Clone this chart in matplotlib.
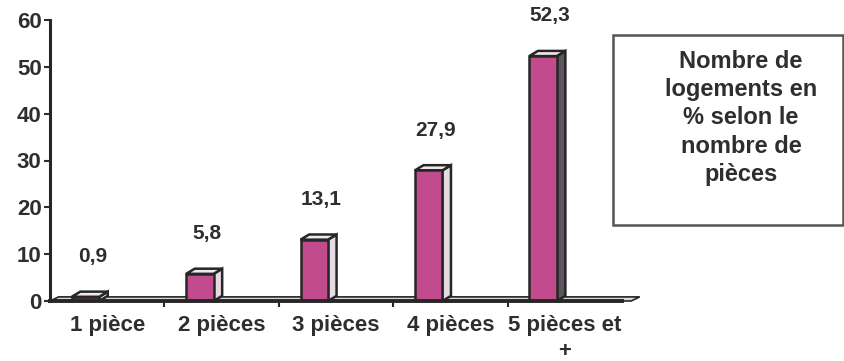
import matplotlib.pyplot as plt
from matplotlib.patches import Polygon, Rectangle


# Données
categories = ['1 pièce', '2 pièces', '3 pièces', '4 pièces', '5 pièces et\n+']
pourcentages = [0.9, 5.8, 13.1, 27.9, 52.3]
etiquettes = ['0,9', '5,8', '13,1', '27,9', '52,3']
graduations_y = [0, 10, 20, 30, 40, 50, 60]
titre = 'Nombre de\nlogements en\n% selon le\nnombre de\npièces'

COULEUR_TEXTE = '#2e2e2e'
COULEUR_FACE = '#c24b8e'
COULEUR_DESSUS = '#f3e8ef'
COULEUR_COTE = '#e4dce2'
COULEUR_COTE_SOMBRE = '#5f5560'
COULEUR_BORD = '#262626'

# Profondeur de l'effet 3D (unités de données)
DX = 0.075
DY = 1.1


def dessiner_sol(ax, n):
    """Dessine le plancher 3D sous les barres."""
    sol = Polygon([(-0.5, 0), (n - 0.5 + 0.08, 0),
                   (n - 0.5 + 0.08 + DX, DY * 0.8), (-0.5 + DX, DY * 0.8)],
                  closed=True, facecolor='#d8d8d8', edgecolor=COULEUR_BORD,
                  linewidth=1.2, clip_on=False, zorder=2)
    ax.add_patch(sol)


def dessiner_barres(ax):
    """Dessine les barres avec leurs faces latérales et supérieures."""
    positions = [i - 0.31 for i in range(len(categories))]
    largeur = 0.24
    barres = ax.bar(positions, pourcentages, width=largeur, align='edge',
                    color=COULEUR_FACE, edgecolor=COULEUR_BORD,
                    linewidth=1.8, zorder=4)

    for i, (barre, valeur) in enumerate(zip(barres, pourcentages)):
        x0 = barre.get_x()
        x1 = x0 + barre.get_width()
        cote = COULEUR_COTE_SOMBRE if i == len(pourcentages) - 1 else COULEUR_COTE
        ax.add_patch(Polygon([(x1, 0), (x1 + DX, DY), (x1 + DX, valeur + DY),
                              (x1, valeur)], closed=True, facecolor=cote,
                             edgecolor=COULEUR_BORD, linewidth=1.8, zorder=3))
        ax.add_patch(Polygon([(x0, valeur), (x1, valeur),
                              (x1 + DX, valeur + DY), (x0 + DX, valeur + DY)],
                             closed=True, facecolor=COULEUR_DESSUS,
                             edgecolor=COULEUR_BORD, linewidth=1.8, zorder=3))

    for i, (valeur, texte) in enumerate(zip(pourcentages, etiquettes)):
        ax.text(i - 0.13, valeur + 8.6, texte, ha='center', va='center',
                fontsize=15, fontweight='bold', color=COULEUR_TEXTE)


def configurer_axes(ax):
    """Configure les axes, graduations et étiquettes."""
    n = len(categories)
    ax.set_xlim(-0.5, n - 0.5)
    ax.set_ylim(0, 60)

    ax.set_yticks(graduations_y)
    ax.set_yticklabels([str(v) for v in graduations_y])
    ax.set_xticks(range(n))
    ax.set_xticklabels(categories, linespacing=1.35)
    ax.set_xticks([i - 0.5 for i in range(1, n)], minor=True)

    ax.tick_params(axis='y', direction='out', length=4, width=1.5, pad=2,
                   labelsize=16, colors=COULEUR_TEXTE)
    ax.tick_params(axis='x', which='major', length=0, pad=10,
                   labelsize=16, colors=COULEUR_TEXTE)
    ax.tick_params(axis='x', which='minor', direction='out', length=4,
                   width=1.5, color=COULEUR_BORD)
    for etiquette in ax.get_xticklabels() + ax.get_yticklabels():
        etiquette.set_fontweight('bold')

    for cote in ['top', 'right']:
        ax.spines[cote].set_visible(False)
    ax.spines['left'].set_linewidth(2.2)
    ax.spines['left'].set_color(COULEUR_BORD)
    ax.spines['bottom'].set_linewidth(2.8)
    ax.spines['bottom'].set_color(COULEUR_BORD)
    ax.spines['bottom'].set_zorder(5)


def dessiner_titre(fig):
    """Dessine le cadre contenant le titre."""
    cadre = Rectangle((613 / 845, 136 / 361), 230 / 845, 190 / 361,
                      transform=fig.transFigure, facecolor='white',
                      edgecolor='#555555', linewidth=1.8)
    fig.patches.append(cadre)
    fig.text(741 / 845, 243 / 361, titre, ha='center', va='center',
             fontsize=17, fontweight='bold', color=COULEUR_TEXTE,
             linespacing=1.28)


def main():
    plt.rcParams['font.family'] = ['Liberation Sans', 'DejaVu Sans']

    fig = plt.figure(figsize=(8.45, 3.61), dpi=100)
    ax = fig.add_axes([50 / 845, 60 / 361, 572 / 845, 281 / 361])

    dessiner_sol(ax, len(categories))
    dessiner_barres(ax)
    configurer_axes(ax)
    dessiner_titre(fig)

    fig.savefig('out.png', dpi=100)


if __name__ == '__main__':
    main()
